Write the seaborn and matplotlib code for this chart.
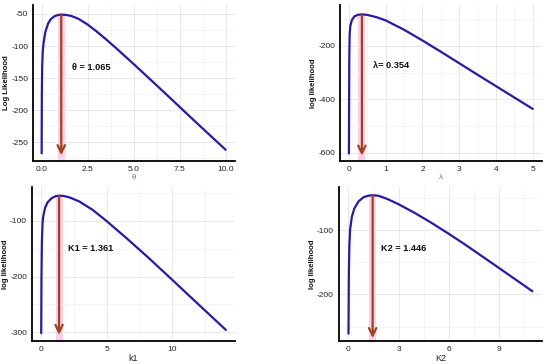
import pandas as pd
import seaborn as sns
import matplotlib.pyplot as plt
from matplotlib.ticker import MultipleLocator

# values
theta = [0.0, 0.01, 0.03, 0.06, 0.1, 0.2, 0.35, 0.5, 0.7, 0.9, 1.065, 1.3, 1.6,
         2.0, 2.5, 3.0, 3.5, 4.0, 5.0, 6.0, 7.0, 8.0, 9.0, 10.0]
ll_theta = [-267, -180, -130, -108, -96, -78, -65, -58, -53.5, -51.5, -51, -51.4, -53,
            -57.5, -66.5, -77.5, -89.5, -102, -128, -154.5, -181.3, -208.3, -235, -261.5]

lam = [0.0, 0.01, 0.02, 0.04, 0.08, 0.15, 0.25, 0.354, 0.5, 0.75, 1.0, 1.5, 2.0,
       2.5, 3.0, 3.5, 4.0, 4.5, 5.0]
ll_lam = [-602, -250, -160, -125, -104, -90, -84, -82.5, -84.5, -93, -105, -140, -180,
          -222, -265, -308, -350.5, -393, -435.5]

k1 = [0.0, 0.02, 0.05, 0.1, 0.15, 0.3, 0.5, 0.8, 1.1, 1.361, 1.7, 2.2, 2.9, 3.9,
      5.0, 6.5, 8.0, 9.0, 10.0, 11.5, 14.07]
ll_k1 = [-302, -200, -140, -105, -92, -76, -66, -59, -55.5, -54.5, -55, -58, -65, -79.8,
         -100.5, -131, -162.5, -184.3, -206.2, -239.4, -296]

k2 = [0.0, 0.02, 0.05, 0.1, 0.2, 0.35, 0.6, 0.9, 1.2, 1.446, 1.8, 2.3, 3.0, 4.0,
      5.0, 6.0, 7.0, 9.0, 11.0]
ll_k2 = [-261, -170, -125, -98, -79, -66, -55, -48.5, -46, -45.3, -46.3, -51, -59.5,
         -73.5, -89, -105.5, -122.7, -158.7, -195]

mle = [1.065, 0.354, 1.361, 1.446]
labels = ["\u03b8 = 1.065", "\u03bb= 0.354", "K1 = 1.361", "K2 = 1.446"]
xlabels = ["\u03b8", "\u03bb", "k1", "K2"]
ylabels = ["Log Likelihood", "log likelihood", "log likelihood", "log likelihood"]

sns.set_theme(style="white")
plt.rcParams['font.family'] = ['Liberation Sans', 'DejaVu Sans']
plt.rcParams['axes.unicode_minus'] = False

fig = plt.figure(figsize=(5.5, 3.64), dpi=100)

panels = [
    dict(x=theta, y=ll_theta, rect=[0.060, 0.5577, 0.367, 0.4286], xlim=(-0.47, 10.5),
         ylim=(-279, -36), xstep=2.5, ystep=50, tip=-270, txt=(1.63, -134), xfmt="{:.1f}",
         xlab_color="#777777", xlab_size=6),
    dict(x=lam, y=ll_lam, rect=[0.618, 0.5577, 0.367, 0.4286], xlim=(-0.245, 5.245),
         ylim=(-630, -47.5), xstep=1, ystep=200, tip=-610, txt=(0.66, -275), xfmt="{:.0f}",
         xlab_color="#777777", xlab_size=6),
    dict(x=k1, y=ll_k1, rect=[0.058, 0.0632, 0.369, 0.423], xlim=(-0.71, 14.76),
         ylim=(-316, -39), xstep=5, ystep=100, tip=-305, txt=(2.04, -150), xfmt="{:.0f}",
         xlab_color="#222222", xlab_size=6.5),
    dict(x=k2, y=ll_k2, rect=[0.616, 0.0632, 0.369, 0.423], xlim=(-0.58, 11.56),
         ylim=(-272.5, -32.6), xstep=3, ystep=100, tip=-268, txt=(1.92, -128.5), xfmt="{:.0f}",
         xlab_color="#222222", xlab_size=6.5),
]

for i, p in enumerate(panels):
    ax = fig.add_axes(p["rect"])
    df = pd.DataFrame({"x": p["x"], "y": p["y"]})
    ax.set_axisbelow(True)

    x0, x1 = p["xlim"]
    y0, y1 = p["ylim"]
    peak = df["y"].max()
    w = (x1 - x0) * 0.017
    ax.axvspan(mle[i] - w, mle[i] + w, ymin=0, ymax=(peak - y0) / (y1 - y0),
               color="#FFCDE8", lw=0, zorder=0.5)

    sns.lineplot(data=df, x="x", y="y", ax=ax, color="#2A17AE", lw=1.6, sort=False)

    ax.annotate("", xy=(mle[i], p["tip"]), xytext=(mle[i], peak),
                arrowprops=dict(arrowstyle="->,head_length=0.45,head_width=0.22",
                                color="#A3401B", lw=1.6, shrinkA=0, shrinkB=0))
    ax.text(p["txt"][0], p["txt"][1], labels[i], fontsize=6.6, fontweight="bold",
            color="#111111", va="center", ha="left")

    ax.set_xlim(x0, x1)
    ax.set_ylim(y0, y1)
    ax.xaxis.set_major_locator(MultipleLocator(p["xstep"]))
    ax.xaxis.set_minor_locator(MultipleLocator(p["xstep"] / 2))
    ax.yaxis.set_major_locator(MultipleLocator(p["ystep"]))
    ax.yaxis.set_minor_locator(MultipleLocator(p["ystep"] / 2))
    ax.set_xticks(ax.get_xticks())
    ax.set_xticklabels([p["xfmt"].format(t) for t in ax.get_xticks()])
    ax.set_xlim(x0, x1)
    ax.grid(which="major", color="#E8E8E8", lw=0.7)
    ax.grid(which="minor", color="#F2F2F2", lw=0.5)

    for s in ["top", "right"]:
        ax.spines[s].set_visible(False)
    for s in ["left", "bottom"]:
        ax.spines[s].set_color("black")
        ax.spines[s].set_linewidth(1.3)

    ax.tick_params(axis="both", which="major", length=2, width=0.6, color="#333333",
                   labelsize=6, labelcolor="#222222", pad=1.5)
    ax.tick_params(axis="both", which="minor", length=0)
    ax.set_xlabel(xlabels[i], fontsize=p["xlab_size"], color=p["xlab_color"], labelpad=0.5)
    ax.set_ylabel(ylabels[i], fontsize=5.6, fontweight="bold", color="#111111", labelpad=1)

fig.savefig("out.png", dpi=100)
